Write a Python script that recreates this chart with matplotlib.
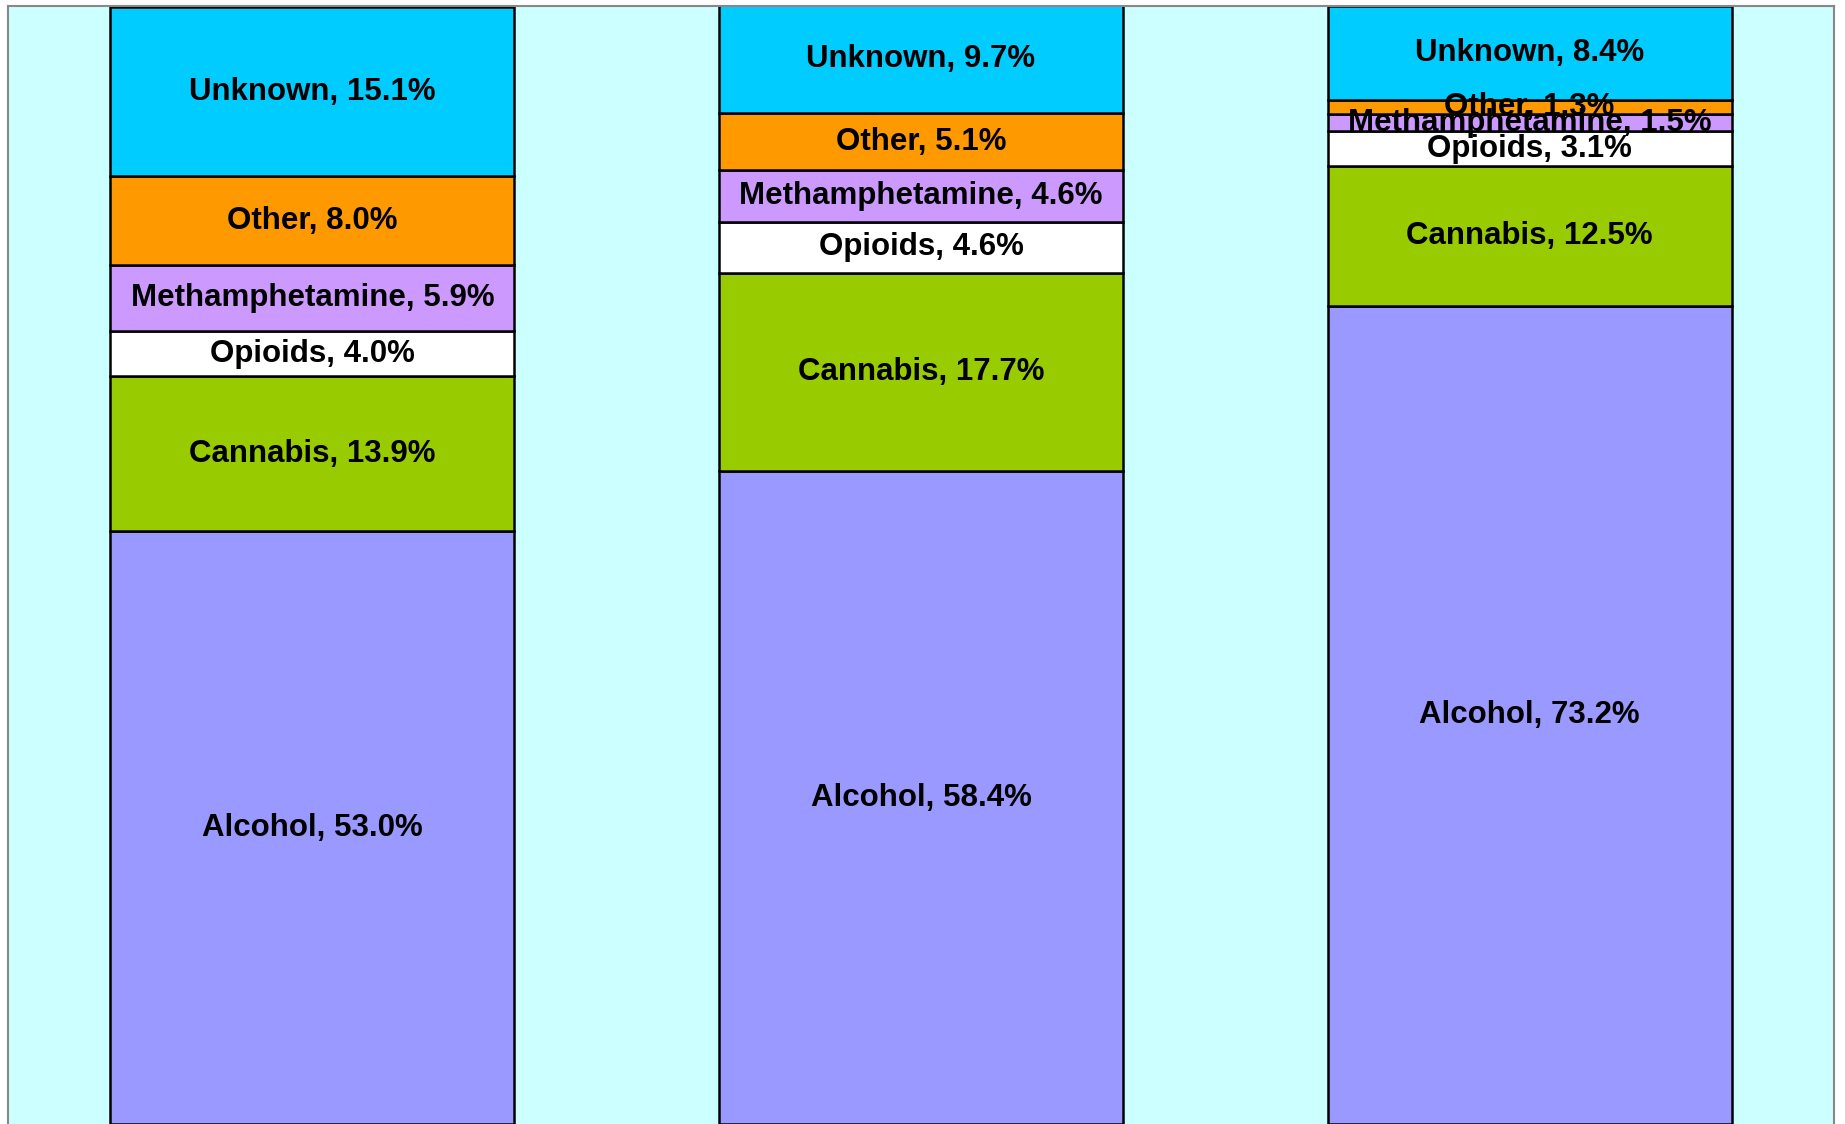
import numpy as np
import matplotlib.pyplot as plt

# Datos (porcentajes por categoria, de abajo hacia arriba)
grupos = ["A", "B", "C"]
sustancias = ["Alcohol", "Cannabis", "Opioids", "Methamphetamine", "Other", "Unknown"]
alcohol = [53.0, 58.4, 73.2]
cannabis = [13.9, 17.7, 12.5]
opioids = [4.0, 4.6, 3.1]
meth = [5.9, 4.6, 1.5]
other = [8.0, 5.1, 1.3]
unknown = [15.1, 9.7, 8.4]

colores = ["#9999FF", "#99CC00", "#FFFFFF", "#CC99FF", "#FF9900", "#00CCFF"]
series = [alcohol, cannabis, opioids, meth, other, unknown]

plt.rcParams['font.family'] = ['Liberation Sans', 'DejaVu Sans']

fig = plt.figure(figsize=(18.45, 11.24), dpi=100)
ax = fig.add_axes([8/1845, 0.0, (1834-8)/1845, 1 - 6/1124])
ax.set_facecolor("#CCFFFF")

x = np.arange(len(grupos))
base = np.zeros(len(grupos))
for nombre, valores, color in zip(sustancias, series, colores):
    valores = np.array(valores)
    ax.bar(x, valores, width=0.664, bottom=base, color=color,
           edgecolor="black", linewidth=1.8)
    for xi, b, v in zip(x, base, valores):
        ax.text(xi, b + v/2, f"{nombre}, {v:.1f}%", ha="center", va="center",
                fontsize=22.5, fontweight="bold", color="black")
    base = base + valores

ax.set_xlim(-0.5, 2.5)
ax.set_ylim(0, 100)
ax.set_xticks([])
ax.set_yticks([])
for lado in ["left", "right", "top"]:
    ax.spines[lado].set_color("#888888")
    ax.spines[lado].set_linewidth(1.5)
ax.spines["bottom"].set_visible(False)

fig.savefig("out.png", dpi=100)
